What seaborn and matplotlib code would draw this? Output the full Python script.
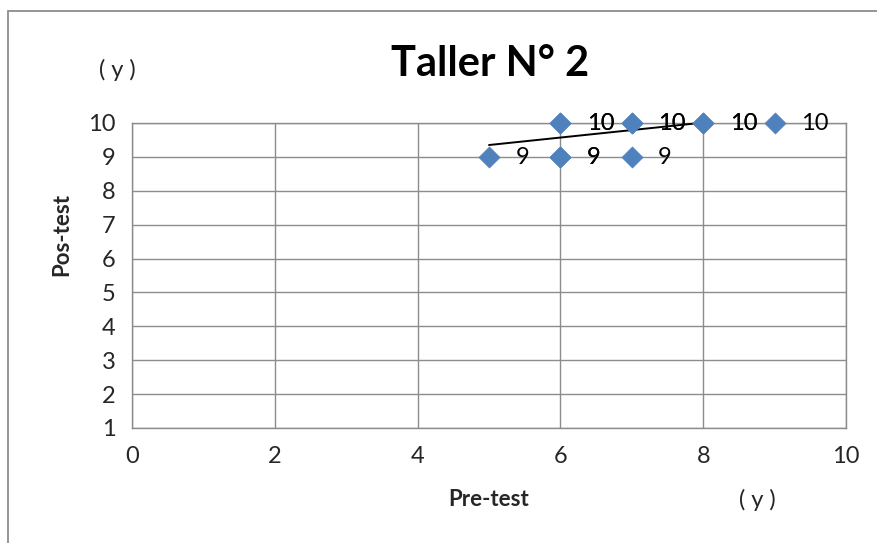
import numpy as np
import pandas as pd
import matplotlib
matplotlib.use('Agg')
import matplotlib.pyplot as plt
import seaborn as sns
from matplotlib.patches import Rectangle

# data (duplicates are drawn on top of each other)
pre_test = [5, 6, 6, 6, 6, 7, 7, 7, 8, 8, 9]
pos_test = [9, 9, 9, 10, 10, 10, 10, 9, 10, 10, 10]
trend_x = [5, 7.95]
trend_y = [9.35, 10]

sns.set_style('white')
plt.rcParams['font.family'] = ['Lato', 'DejaVu Sans']

df = pd.DataFrame({'pre': pre_test, 'pos': pos_test})

fig = plt.figure(figsize=(8.77, 5.43), dpi=100)
ax = fig.add_axes([0.1505, 0.2118, 0.8142, 0.5617])

# outer chart border (only top/left visible)
fig.patches.append(Rectangle((8 / 877, -0.1), 1.2, 1.1 - 11 / 543, transform=fig.transFigure,
                             fill=False, edgecolor='#8c8c8c', lw=1.3))

ax.plot(trend_x, trend_y, color='black', lw=1.4, zorder=3, clip_on=False)
sns.scatterplot(data=df, x='pre', y='pos', marker='D', s=115, color='#4F81BD',
                edgecolor='#4F81BD', linewidth=0.5, ax=ax, zorder=4, legend=False,
                clip_on=False)

for x, y in zip(pre_test, pos_test):
    ax.annotate(str(y), (x, y), xytext=(19, -0.5), textcoords='offset points',
                va='center', ha='left', fontsize=17, color='black', zorder=5)

ax.set_xlim(0, 10)
ax.set_ylim(1, 10)
ax.set_xticks(np.arange(0, 11, 2))
ax.set_yticks(np.arange(1, 11, 1))
ax.grid(True, color='#8c8c8c', lw=1.0)
for s in ax.spines.values():
    s.set_color('#8c8c8c')
    s.set_linewidth(1.0)
ax.tick_params(axis='both', length=0, labelsize=17, pad=12)
ax.tick_params(axis='x', pad=13)

ax.set_xlabel('Pre-test', fontsize=16, fontweight='bold', labelpad=16)
ax.set_ylabel('Pos-test', fontsize=16, fontweight='bold')
ax.yaxis.set_label_coords(-0.083, 0.633)
fig.text(0.559, 0.883, 'Taller N° 2', ha='center', va='center', fontsize=30,
         fontweight='bold', color='black')
fig.text(117 / 877, 1 - 70 / 543, '( y )', ha='center', va='center', fontsize=17)
fig.text(757 / 877, 1 - 500 / 543, '( y )', ha='center', va='center', fontsize=17)

fig.savefig('out.png', dpi=100)
